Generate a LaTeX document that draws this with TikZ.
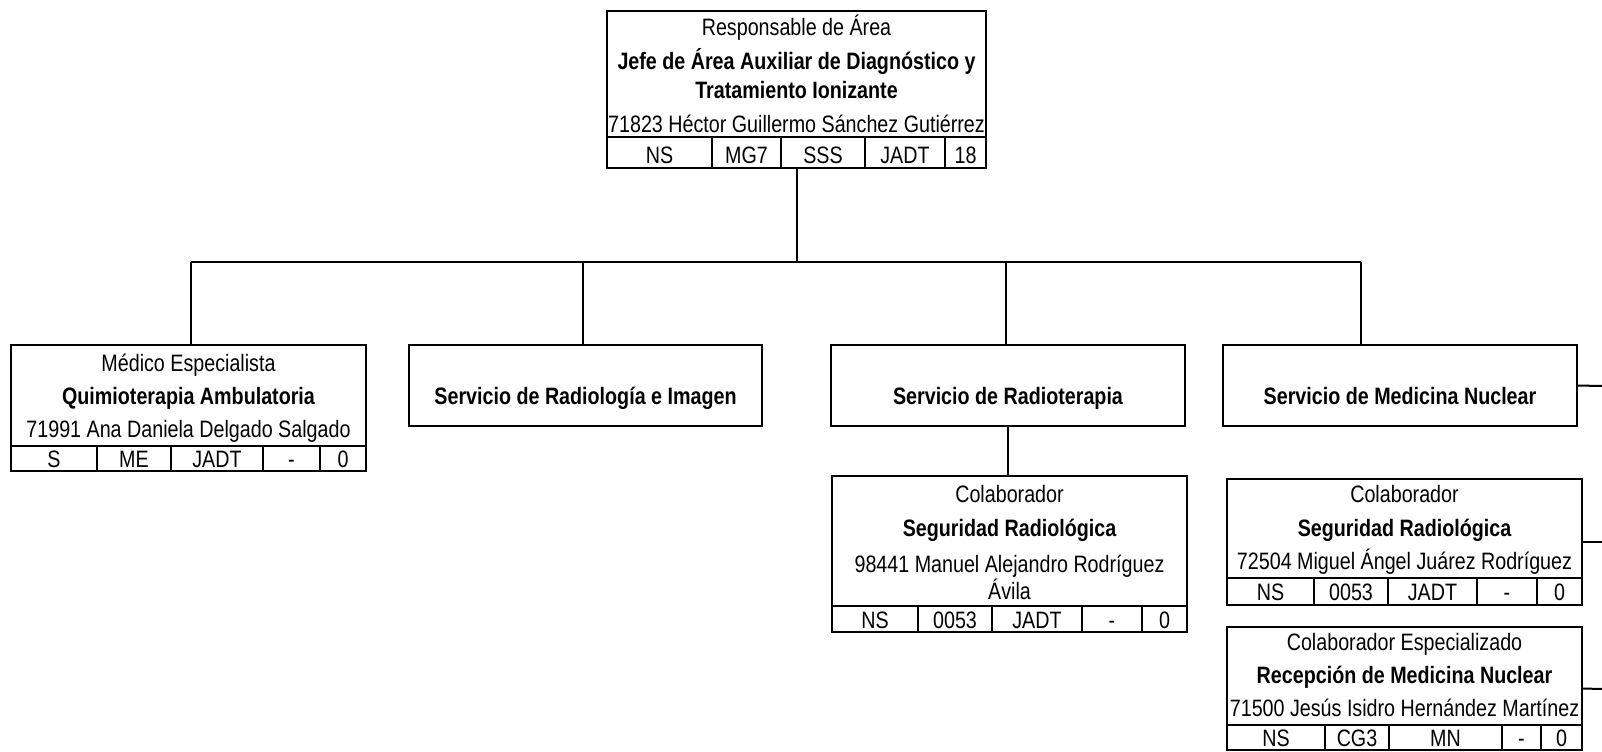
\documentclass[tikz,border=0pt]{standalone}
\usepackage{fontspec}
\setmainfont{Liberation Sans}[FakeStretch=0.83]
\newcommand{\rgfont}{\fontsize{17.8pt}{21pt}\selectfont}
\newcommand{\bdfont}{\fontsize{17.8pt}{21pt}\selectfont\bfseries}
\tikzset{
  boxframe/.style={draw, line width=1.6pt, inner sep=0pt, outer sep=0pt, anchor=north west},
  cellline/.style={line width=1.2pt},
  conn/.style={line width=1.5pt},
  txt/.style={anchor=base, inner sep=0pt, font=\rgfont},
  btxt/.style={anchor=base, inner sep=0pt, font=\bdfont},
}
\newcommand{\frameat}[5]{\node[boxframe, minimum width={(#4-#2)*0.75pt}, minimum height={(#5-#3)*0.75pt}] (#1) at (#2,#3) {};}
\begin{document}
\begin{tikzpicture}[x=0.75pt,y=-0.75pt]
\useasboundingbox (0,0) rectangle (1602,752);

% ---------- top box ----------
\frameat{top}{607}{11}{986}{168}
\draw[cellline] (607,137) -- (986,137);
\foreach \xx in {712,781,865,945} \draw[cellline] (\xx,137) -- (\xx,168);
\node[txt]  (t1) at (796.5,36) {Responsable de Área};
\node[btxt] (t2) at (796.5,70) {Jefe de Área Auxiliar de Diagnóstico y};
\node[btxt] (t3) at (796.5,99) {Tratamiento Ionizante};
\node[txt]  (t4) at (796.5,133) {71823 Héctor Guillermo Sánchez Gutiérrez};
\node[txt] (tc1) at (659.5,164) {NS};
\node[txt] (tc2) at (746.5,164) {MG7};
\node[txt] (tc3) at (823,164) {SSS};
\node[txt] (tc4) at (905,164) {JADT};
\node[txt] (tc5) at (965.5,164) {18};

% ---------- Medico especialista ----------
\frameat{med}{11}{345}{366}{471}
\draw[cellline] (11,446) -- (366,446);
\foreach \xx in {97,171,263,320} \draw[cellline] (\xx,446) -- (\xx,471);
\node[txt]  (m1) at (188.5,371) {Médico Especialista};
\node[btxt] (m2) at (188.5,404) {Quimioterapia Ambulatoria};
\node[txt]  (m3) at (188.5,437) {71991 Ana Daniela Delgado Salgado};
\node[txt] (mc1) at (54,467) {S};
\node[txt] (mc2) at (134,467) {ME};
\node[txt] (mc3) at (217,467) {JADT};
\node[txt] (mc4) at (291.5,467) {-};
\node[txt] (mc5) at (343,467) {0};

% ---------- service boxes ----------
\frameat{rad}{409}{345}{762}{426}
\node[btxt] (rt) at (585.5,404) {Servicio de Radiología e Imagen};
\frameat{rter}{831}{345}{1185}{426}
\node[btxt] (rtt) at (1008,404) {Servicio de Radioterapia};
\frameat{nuc}{1223}{345}{1577}{426}
\node[btxt] (nt) at (1400,404) {Servicio de Medicina Nuclear};

% ---------- Colaborador (Radioterapia) ----------
\frameat{colA}{832}{476}{1187}{632}
\draw[cellline] (832,606) -- (1187,606);
\foreach \xx in {918,992,1082,1142} \draw[cellline] (\xx,606) -- (\xx,632);
\node[txt]  (a1) at (1009.5,502) {Colaborador};
\node[btxt] (a2) at (1009.5,536) {Seguridad Radiológica};
\node[txt]  (a3) at (1009.5,572) {98441 Manuel Alejandro Rodríguez};
\node[txt]  (a4) at (1009.5,599) {Ávila};
\node[txt] (ac1) at (875,628) {NS};
\node[txt] (ac2) at (955,628) {0053};
\node[txt] (ac3) at (1037,628) {JADT};
\node[txt] (ac4) at (1112,628) {-};
\node[txt] (ac5) at (1164.5,628) {0};

% ---------- Colaborador (Medicina Nuclear) ----------
\frameat{colB}{1227}{479}{1582}{605}
\draw[cellline] (1227,578) -- (1582,578);
\foreach \xx in {1314,1388,1477,1537} \draw[cellline] (\xx,578) -- (\xx,605);
\node[txt]  (b1) at (1404.5,502) {Colaborador};
\node[btxt] (b2) at (1404.5,536) {Seguridad Radiológica};
\node[txt]  (b3) at (1404.5,569) {72504 Miguel Ángel Juárez Rodríguez};
\node[txt] (bc1) at (1270.5,600) {NS};
\node[txt] (bc2) at (1351,600) {0053};
\node[txt] (bc3) at (1432.5,600) {JADT};
\node[txt] (bc4) at (1507,600) {-};
\node[txt] (bc5) at (1559.5,600) {0};

% ---------- Colaborador Especializado ----------
\frameat{colC}{1227}{627}{1582}{750}
\draw[cellline] (1227,725) -- (1582,725);
\foreach \xx in {1325,1389,1502,1541} \draw[cellline] (\xx,725) -- (\xx,750);
\node[txt]  (c1) at (1404.5,650) {Colaborador Especializado};
\node[btxt] (c2) at (1404.5,683) {Recepción de Medicina Nuclear};
\node[txt]  (c3) at (1404.5,716) {71500 Jesús Isidro Hernández Martínez};
\node[txt] (cc1) at (1276,746) {NS};
\node[txt] (cc2) at (1357,746) {CG3};
\node[txt] (cc3) at (1445.5,746) {MN};
\node[txt] (cc4) at (1521.5,746) {-};
\node[txt] (cc5) at (1561.5,746) {0};

% ---------- connectors ----------
\coordinate (j1) at (191,262);
\coordinate (j2) at (583,262);
\coordinate (j3) at (1006,262);
\coordinate (j4) at (1361,262);
\coordinate (e1) at (1602,386);
\coordinate (e2) at (1602,542);
\coordinate (e3) at (1602,689);
\draw[conn] (top.south) -- (top.south |- j1);
\draw[conn] (j1) -- (j4);
\draw[conn] (j1) -- (j1 |- med.north);
\draw[conn] (j2) -- (j2 |- rad.north);
\draw[conn] (j3) -- (j3 |- rter.north);
\draw[conn] (j4) -- (j4 |- nuc.north);
\draw[conn] (rter.south) -- (rter.south |- colA.north);
\draw[conn] (nuc.east) -- (e1);
\draw[conn] (colB.east) -- (e2);
\draw[conn] (colC.east) -- (e3);
\end{tikzpicture}
\end{document}
